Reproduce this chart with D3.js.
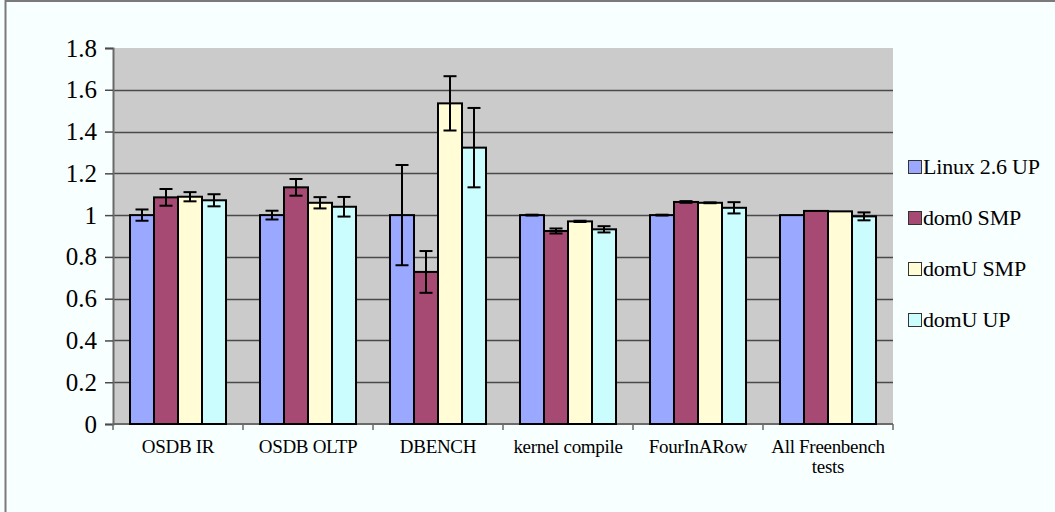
<!DOCTYPE html>
<html>
<head>
<meta charset="utf-8">
<script src="https://cdn.jsdelivr.net/npm/d3@7"></script>
<style>
  html, body { margin: 0; padding: 0; background: #f8ffff; }
  svg { display: block; }
  svg text { font-family: "Liberation Serif", "Tinos", "Times New Roman", Times, "DejaVu Serif", serif !important; fill: #000; }
</style>
</head>
<body>
<svg id="chart" width="1055" height="512"></svg>
<script>
"use strict";

// benchmark names (x axis)
const categories = ["OSDB IR", "OSDB OLTP", "DBENCH", "kernel compile", "FourInARow", "All Freenbench tests"];
const seriesNames = ["Linux 2.6 UP", "dom0 SMP", "domU SMP", "domU UP"];
const seriesColors = ["#9aa8ff", "#a64a74", "#fffcd6", "#ccfdfe"];

// relative performance, one array per series
const linuxUP = [1.0, 1.0, 1.0, 1.0, 1.0, 1.0];
const dom0SMP = [1.085, 1.133, 0.728, 0.924, 1.063, 1.020];
const domUSMP = [1.088, 1.059, 1.535, 0.970, 1.059, 1.018];
const domUUP = [1.071, 1.040, 1.323, 0.932, 1.035, 0.994];

// error bar half-widths
const linuxUPErr = [0.027, 0.021, 0.24, 0.002, 0.002, 0];
const dom0SMPErr = [0.04, 0.04, 0.10, 0.012, 0.004, 0];
const domUSMPErr = [0.022, 0.027, 0.13, 0.003, 0.002, 0];
const domUUPErr = [0.029, 0.047, 0.19, 0.015, 0.027, 0.019];

const yTicks = [0, 0.2, 0.4, 0.6, 0.8, 1, 1.2, 1.4, 1.6, 1.8];

const values = [linuxUP, dom0SMP, domUSMP, domUUP];
const errors = [linuxUPErr, dom0SMPErr, domUSMPErr, domUUPErr];

const svg = d3.select("#chart");

// outer frame (left + top edges visible)
svg.append("path")
  .attr("d", "M5.5,512 V1 H1055")
  .attr("fill", "none")
  .attr("stroke", "#7a7a7a")
  .attr("stroke-width", 2);

const plot = { left: 113, right: 893, top: 48, bottom: 424 };

const x = d3.scaleBand().domain(categories).range([plot.left, plot.right]);
const xs = d3.scaleBand().domain(seriesNames).range([17, 113]);
const y = d3.scaleLinear().domain([0, 1.8]).range([plot.bottom, plot.top]);

// plot background
svg.append("rect")
  .attr("x", plot.left)
  .attr("y", plot.top)
  .attr("width", plot.right - plot.left)
  .attr("height", plot.bottom - plot.top)
  .attr("fill", "#cbcbcb");

// gridlines
svg.append("g")
  .selectAll("line")
  .data(yTicks.filter(d => d > 0 && d < 1.8))
  .enter()
  .append("line")
  .attr("x1", plot.left)
  .attr("x2", plot.right)
  .attr("y1", d => Math.round(y(d)) + 0.5)
  .attr("y2", d => Math.round(y(d)) + 0.5)
  .attr("stroke", "#4a4a4a")
  .attr("stroke-width", 1.5);

// y axis
const yAxis = svg.append("g")
  .attr("transform", "translate(" + plot.left + ",0)")
  .call(d3.axisLeft(y).tickValues(yTicks).tickSize(8).tickPadding(8)
    .tickFormat(d => String(+d.toFixed(1))));
yAxis.attr("font-family", null);
yAxis.select(".domain").attr("stroke", "#6a6a6a").attr("stroke-width", 2);
yAxis.selectAll(".tick line").attr("stroke", "#4a4a4a").attr("stroke-width", 1.5);
yAxis.selectAll(".tick text")
  .style("font-size", "25px")
  .attr("fill", "#000");

// x axis
const xAxis = svg.append("g")
  .attr("transform", "translate(0," + plot.bottom + ")");
xAxis.append("line")
  .attr("x1", plot.left).attr("x2", plot.right)
  .attr("stroke", "#6a6a6a").attr("stroke-width", 2);
xAxis.selectAll(".xt")
  .data(categories.map(c => x(c)).concat([plot.right]))
  .enter()
  .append("line")
  .attr("class", "xt")
  .attr("x1", d => d).attr("x2", d => d)
  .attr("y1", 0).attr("y2", 6)
  .attr("stroke", "#6a6a6a").attr("stroke-width", 1.5);

const xLabels = xAxis.selectAll(".xl")
  .data(categories)
  .enter()
  .append("text")
  .attr("class", "xl")
  .attr("text-anchor", "middle")
  .style("font-size", "19px")
  .style("letter-spacing", "-0.3px")
  .attr("transform", d => "translate(" + (x(d) + x.bandwidth() / 2) + ",29)");
xLabels.each(function (d) {
  const lines = d === "All Freenbench tests" ? ["All Freenbench", "tests"] : [d];
  d3.select(this).selectAll("tspan")
    .data(lines)
    .enter()
    .append("tspan")
    .attr("x", 0)
    .attr("dy", (l, i) => (i === 0 ? 0 : 20))
    .text(l => l);
});

// bars
const groups = svg.append("g")
  .selectAll("g")
  .data(seriesNames)
  .enter()
  .append("g");

groups.selectAll("rect")
  .data((s, si) => categories.map((c, ci) => ({ s, si, c, v: values[si][ci], e: errors[si][ci] })))
  .enter()
  .append("rect")
  .attr("x", d => x(d.c) + xs(d.s))
  .attr("y", d => y(d.v))
  .attr("width", xs.bandwidth())
  .attr("height", d => y(0) - y(d.v))
  .attr("fill", d => seriesColors[d.si])
  .attr("stroke", "#000")
  .attr("stroke-width", 2);

// error bars
const eb = svg.append("g")
  .selectAll("g")
  .data(d3.merge(seriesNames.map((s, si) => categories.map((c, ci) => ({ s, si, c, v: values[si][ci], e: errors[si][ci] })))).filter(d => d.e > 0))
  .enter()
  .append("g")
  .attr("stroke", "#000")
  .attr("stroke-width", 2);
const cx = d => x(d.c) + xs(d.s) + xs.bandwidth() / 2;
eb.append("line")
  .attr("x1", cx).attr("x2", cx)
  .attr("y1", d => y(d.v + d.e)).attr("y2", d => y(d.v - d.e));
eb.append("line")
  .attr("x1", d => cx(d) - 6.5).attr("x2", d => cx(d) + 6.5)
  .attr("y1", d => y(d.v + d.e)).attr("y2", d => y(d.v + d.e));
eb.append("line")
  .attr("x1", d => cx(d) - 6.5).attr("x2", d => cx(d) + 6.5)
  .attr("y1", d => y(d.v - d.e)).attr("y2", d => y(d.v - d.e));

// legend
const legend = svg.append("g")
  .selectAll("g")
  .data(seriesNames)
  .enter()
  .append("g")
  .attr("transform", (d, i) => "translate(908," + (167 + i * 51) + ")");
legend.append("rect")
  .attr("x", 0.5).attr("y", -6.5)
  .attr("width", 13).attr("height", 13)
  .attr("fill", (d, i) => seriesColors[i])
  .attr("stroke", "#333")
  .attr("stroke-width", 1);
legend.append("text")
  .attr("x", 15)
  .attr("y", 7)
  .style("font-size", "22px")
  .style("letter-spacing", "-0.2px")
  .text(d => d);
</script>
</body>
</html>
